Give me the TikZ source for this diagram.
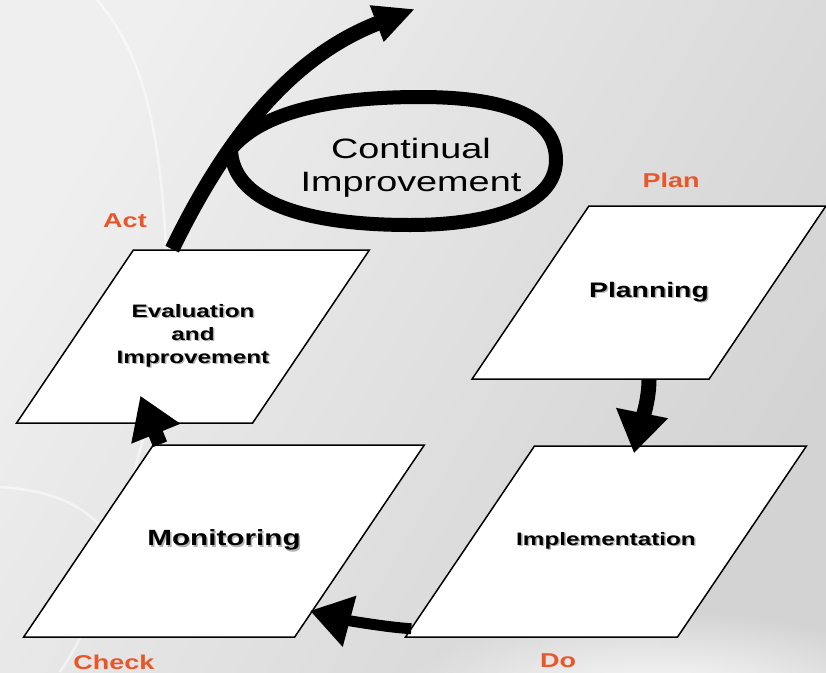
\documentclass[tikz,border=0pt]{standalone}
\usepackage{fontspec}
\newfontfamily\boxfont{Liberation Sans}[FakeStretch=1.35]
\usetikzlibrary{arrows.meta,calc,fadings}
\definecolor{phaseorange}{RGB}{232,87,42}
\definecolor{bgleft}{HTML}{EFEFEF}
\definecolor{bgright}{HTML}{D3D3D3}
\newcommand{\shadowtext}[1]{\makebox[0pt][l]{\hspace{1.5pt}\raisebox{-1.5pt}{\color{black!30}#1}}#1}
\tikzfading[name=glow, inner color=transparent!0, outer color=transparent!100]

\begin{document}
\begin{tikzpicture}[x=1pt,y=-1pt,
stage/.style={draw=black, line width=1.5pt, fill=white, xslant=0.675, transform shape, inner sep=0pt},
stagetext/.style={align=center, font=\boxfont\bfseries\fontsize{#1}{23}\selectfont},
phase/.style={anchor=base, font=\boxfont\bfseries\fontsize{20}{24}\selectfont, text=phaseorange},
flow/.style={line width=15pt, -{Triangle[length=41pt,width=50pt]}},
swoosh/.style={white, line width=2.5pt, opacity=.5}]
\useasboundingbox (0,0) rectangle (826,672);
\clip (0,0) rectangle (826,672);
\shade[left color=bgleft, right color=bgright, shading angle=60] (0,0) rectangle (826,672);
\fill[white, path fading=glow] (660,705) ellipse (270 and 95);
\draw[swoosh] (97,0) .. controls (140,50) and (160,120) .. (166,250);
\draw[swoosh] (0,487) .. controls (50,490) and (90,505) .. (110,540);
\draw[swoosh] (143,440) .. controls (130,480) and (110,600) .. (60,672);
% cycle boxes
\node[stage, minimum width=237pt, minimum height=173pt] (plan) at (649,292.5) {};
\node[stage, minimum width=272pt, minimum height=191pt] (impl) at (606,541.5) {};
\node[stage, minimum width=271pt, minimum height=192pt] (mon) at (224,541) {};
\node[stage, minimum width=236pt, minimum height=173pt] (eval) at (193,336.5) {};
\node[stagetext=21] (plantext) at (plan.center) {\shadowtext{Planning}};
\node[stagetext=18] (impltext) at (impl.center) {\shadowtext{Implementation}};
\node[stagetext=22] (montext) at (mon.center) {\shadowtext{Monitoring}};
\node[stagetext=18] (evaltext) at (eval.center) {\shadowtext{Evaluation}\\\shadowtext{and}\\\shadowtext{Improvement}};
\node[phase] (planlbl) at (671,187) {Plan};
\node[phase] (dolbl) at (558,667) {Do};
\node[phase] (checklbl) at (114,669) {Check};
\node[phase] (actlbl) at (125,227) {Act};
% continual improvement loop
\coordinate (cross) at (231,149);
\coordinate (up) at (415,9);
\draw[line width=14pt, line cap=round] (cross) .. controls (262,112) and (330,97) .. (420,97)
    .. controls (510,97) and (556,118) .. (556,160)
    .. controls (556,205) and (490,225) .. (410,225)
    .. controls (300,225) and (232,200) .. (cross);
\draw[line width=15pt, -{Triangle[length=41pt,width=36pt]}] ([xshift=39]eval.north west)
    .. controls +(48,-99) and (284,59) .. (up);
\node[font=\boxfont\fontsize{28}{33}\selectfont, align=center] (ci) at (411,168) {Continual\\Improvement};
% arrows
\draw[flow] (plan.center |- plan.south) .. controls +(0,25) and +(4,-20) .. ($(impl.center |- impl.north)+(28,8)$);
\draw[flow, line width=11pt] ([shift={(7,-9)}]impl.south west) .. controls +(-30,-2) and +(30,8) .. ([shift={(15,-27)}]mon.south east);
\draw[flow] ([xshift=7]mon.north west) -- ([shift={(125,-28)}]eval.south west);
\end{tikzpicture}
\end{document}
